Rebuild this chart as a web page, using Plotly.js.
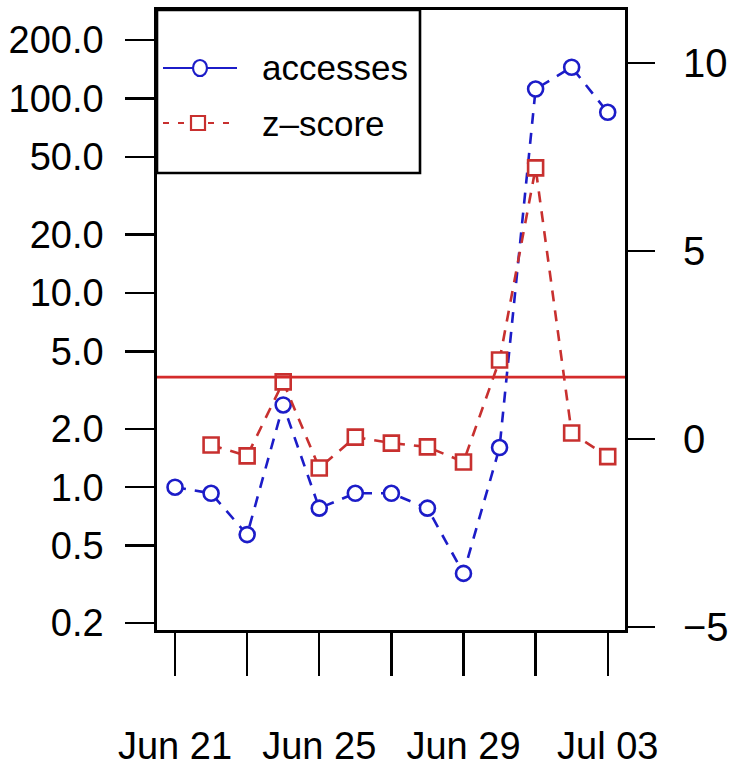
<!DOCTYPE html>
<html><head><meta charset="utf-8">
<script src="https://cdn.plot.ly/plotly-3.0.1.min.js"></script>
<style>html,body{margin:0;padding:0;background:#fff}#chart{width:735px;height:769px}</style>
</head><body><div id="chart"></div>
<script>
// ---- data ----
const dates = ['2012-06-21','2012-06-22','2012-06-23','2012-06-24','2012-06-25','2012-06-26','2012-06-27',
               '2012-06-28','2012-06-29','2012-06-30','2012-07-01','2012-07-02','2012-07-03'];
const accesses = [1.0, 0.93, 0.57, 2.65, 0.78, 0.93, 0.93, 0.78, 0.36, 1.6, 112, 145, 85];
const zDates = ['2012-06-22','2012-06-23','2012-06-24','2012-06-25','2012-06-26','2012-06-27',
                '2012-06-28','2012-06-29','2012-06-30','2012-07-01','2012-07-02','2012-07-03'];
const zScores = [-0.16, -0.45, 1.52, -0.77, 0.05, -0.11, -0.21, -0.61, 2.10, 7.21, 0.16, -0.47];
const threshold = 1.645;
const leftTickVals = [0.2, 0.5, 1, 2, 5, 10, 20, 50, 100, 200];
const leftTickText = ['0.2','0.5','1.0','2.0','5.0','10.0','20.0','50.0','100.0','200.0'];
const rightTickVals = [-5, 0, 5, 10];
const rightTickText = ['\u22125','0','5','10'];
const xTickVals = ['2012-06-21','2012-06-23','2012-06-25','2012-06-27','2012-06-29','2012-07-01','2012-07-03'];
const xTickText = ['Jun 21','','Jun 25','','Jun 29','','Jul 03'];
const seriesNames = ['accesses', 'z\u2013score'];

// ---- style ----
const BLUE = '#1c1cc8', RED = '#c8302f', HLINE = '#d42b2b';
const FONT = 'Liberation Sans, Arial, Helvetica, sans-serif';
const W = 735, H = 769, L = 157, R = 625, T = 10, B = 630;
const px = x => (x - L) / (R - L);
const py = y => (B - y) / (B - T);

const traces = [
  {x: dates, y: accesses, type: 'scatter', mode: 'lines+markers', yaxis: 'y', showlegend: false,
   line: {color: BLUE, width: 2.6, dash: '11px,9px'},
   marker: {symbol: 'circle', size: 15, color: '#fff', line: {color: BLUE, width: 2.6}}},
  {x: zDates, y: zScores, type: 'scatter', mode: 'lines+markers', yaxis: 'y2', showlegend: false,
   line: {color: RED, width: 2.6, dash: '11px,9px'},
   marker: {symbol: 'square', size: 15, color: '#fff', line: {color: RED, width: 2.6}}}
];

const shapes = [
  {type: 'line', xref: 'paper', x0: 0, x1: 1, yref: 'y2', y0: threshold, y1: threshold,
   line: {color: HLINE, width: 2.8}, layer: 'above'},
  // legend box
  {type: 'rect', xref: 'paper', yref: 'paper', x0: 0, x1: px(420), y0: py(173), y1: 1,
   line: {color: '#000', width: 2.6}, fillcolor: '#fff', layer: 'above'},
  {type: 'line', xref: 'paper', yref: 'paper', x0: px(163), x1: px(237), y0: py(68), y1: py(68),
   line: {color: BLUE, width: 2.2}, layer: 'above'},
  {type: 'circle', xref: 'paper', yref: 'paper', xsizemode: 'pixel', ysizemode: 'pixel',
   xanchor: px(200), yanchor: py(68), x0: -7, x1: 7, y0: -8, y1: 8,
   line: {color: BLUE, width: 2.2}, fillcolor: '#fff', layer: 'above'},
  {type: 'line', xref: 'paper', yref: 'paper', x0: px(163), x1: px(233), y0: py(123), y1: py(123),
   line: {color: RED, width: 2.2, dash: '6px,9px'}, layer: 'above'},
  {type: 'rect', xref: 'paper', yref: 'paper', xsizemode: 'pixel', ysizemode: 'pixel',
   xanchor: px(198), yanchor: py(123), x0: -7, x1: 7, y0: -7, y1: 7,
   line: {color: RED, width: 2.2}, fillcolor: '#fff', layer: 'above'}
];

const annotations = [
  {xref: 'paper', yref: 'paper', x: px(260), y: py(68), xanchor: 'left', yanchor: 'middle',
   text: seriesNames[0], showarrow: false, font: {family: FONT, size: 35, color: '#000'}},
  {xref: 'paper', yref: 'paper', x: px(260), y: py(123), xanchor: 'left', yanchor: 'middle',
   text: seriesNames[1], showarrow: false, font: {family: FONT, size: 35, color: '#000'}}
];

const layout = {
  width: W, height: H,
  margin: {l: L, r: W - R, t: T, b: H - B, pad: 0},
  paper_bgcolor: '#fff', plot_bgcolor: '#fff',
  font: {family: FONT, size: 38, color: '#000'},
  showlegend: false,
  xaxis: {type: 'date', range: ['2012-06-20 12:00', '2012-07-03 11:30'],
          tickvals: xTickVals, ticktext: xTickText, ticks: 'outside', ticklen: 43, tickwidth: 2.4,
          tickcolor: '#000', showgrid: false, zeroline: false, showline: true, mirror: true,
          linecolor: '#000', linewidth: 2.8, ticklabelstandoff: 38,
          tickfont: {family: FONT, size: 38, color: '#000'}},
  yaxis: {type: 'log', range: [-0.735, 2.456], tickvals: leftTickVals, ticktext: leftTickText,
          ticks: 'outside', ticklen: 29, tickwidth: 2.4, tickcolor: '#000', showgrid: false,
          zeroline: false, showline: true, mirror: true, linecolor: '#000', linewidth: 2.8,
          ticklabelstandoff: 14, tickfont: {family: FONT, size: 38, color: '#000'}},
  yaxis2: {overlaying: 'y', side: 'right', range: [-5.08, 11.41], tickvals: rightTickVals,
           ticktext: rightTickText, ticks: 'outside', ticklen: 29, tickwidth: 2.4, tickcolor: '#000',
           showgrid: false, zeroline: false, showline: false, ticklabelstandoff: 20,
           tickfont: {family: FONT, size: 40, color: '#000'}},
  shapes: shapes,
  annotations: annotations
};

Plotly.newPlot('chart', traces, layout, {displayModeBar: false, staticPlot: true});
</script></body></html>
